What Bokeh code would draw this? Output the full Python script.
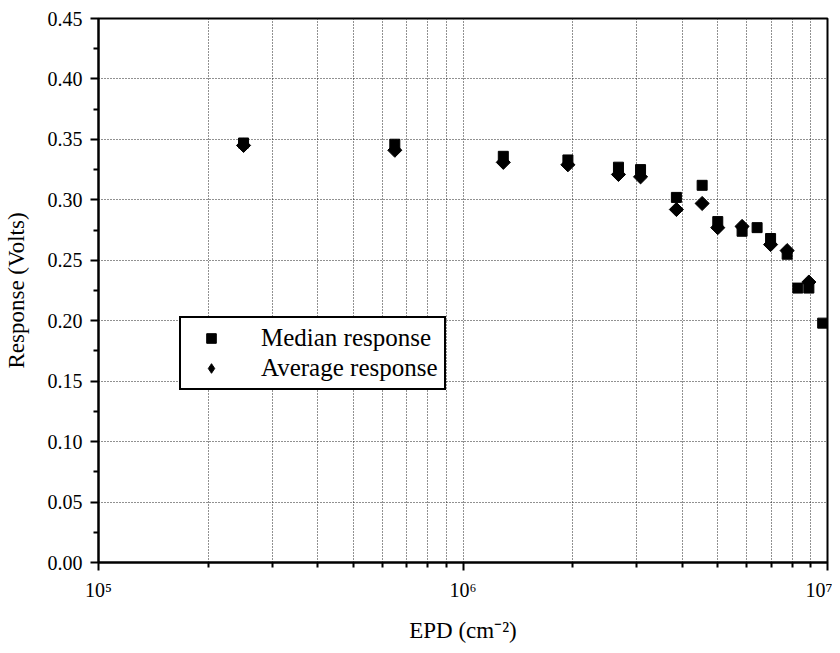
import math
from bokeh.plotting import figure
from bokeh.models import FixedTicker, Legend, LegendItem, NumeralTickFormatter
from bokeh.embed import file_html
from bokeh.resources import INLINE

# ---- data ----
median_x = [2.5e5, 6.5e5, 1.29e6, 1.94e6, 2.67e6, 3.07e6, 3.85e6, 4.53e6,
            5.0e6, 5.83e6, 6.41e6, 6.98e6, 7.75e6, 8.29e6, 8.89e6, 9.7e6]
median_y = [0.347, 0.346, 0.336, 0.333, 0.327, 0.325, 0.302, 0.312,
            0.282, 0.274, 0.277, 0.268, 0.255, 0.227, 0.227, 0.198]

average_x = [2.5e5, 6.5e5, 1.29e6, 1.94e6, 2.67e6, 3.07e6, 3.85e6, 4.53e6,
             5.0e6, 5.83e6, 6.98e6, 7.75e6, 8.89e6]
average_y = [0.345, 0.341, 0.331, 0.329, 0.321, 0.319, 0.292, 0.297,
             0.277, 0.278, 0.263, 0.258, 0.232]

x_major_ticks = [1e5, 1e6, 1e7]
x_minor_ticks = [2e5, 3e5, 4e5, 5e5, 6e5, 7e5, 8e5, 9e5,
                 2e6, 3e6, 4e6, 5e6, 6e6, 7e6, 8e6, 9e6]
x_tick_labels = {1e5: "10\u2075", 1e6: "10\u2076", 1e7: "10\u2077"}
y_major_ticks = [0.00, 0.05, 0.10, 0.15, 0.20, 0.25, 0.30, 0.35, 0.40, 0.45]
y_minor_ticks = [0.025, 0.075, 0.125, 0.175, 0.225, 0.275, 0.325, 0.375, 0.425]

FONT = "Liberation Serif"

p = figure(width=832, height=645, x_axis_type="log",
           x_range=(1e5, 1e7), y_range=(0, 0.45),
           output_backend="svg", toolbar_location=None,
           min_border_left=98, min_border_right=5,
           min_border_top=18, min_border_bottom=83,
           background_fill_color="white", border_fill_color="white")

p.outline_line_color = "black"
p.outline_line_width = 2

# axes
p.xaxis.ticker = FixedTicker(ticks=x_major_ticks, minor_ticks=x_minor_ticks)
p.xaxis.major_label_overrides = x_tick_labels
p.yaxis.ticker = FixedTicker(ticks=y_major_ticks, minor_ticks=y_minor_ticks)
p.yaxis.formatter = NumeralTickFormatter(format="0.00")

p.axis.axis_line_color = "black"
p.axis.axis_line_width = 2
p.axis.major_tick_line_color = "black"
p.axis.major_tick_line_width = 2
p.axis.minor_tick_line_color = "black"
p.axis.minor_tick_line_width = 2
p.axis.major_tick_in = 0
p.axis.major_tick_out = 8
p.axis.minor_tick_in = 0
p.axis.minor_tick_out = 5
p.axis.axis_label_text_font = FONT
p.axis.axis_label_text_font_size = "23px"
p.axis.axis_label_text_font_style = "normal"
p.axis.axis_label_text_color = "black"
p.axis.major_label_text_font = FONT
p.axis.major_label_text_font_size = "20px"
p.axis.major_label_text_font_style = "normal"
p.axis.major_label_text_color = "black"

p.xaxis.axis_label = "EPD (cm\u207b\u00b2)"
p.yaxis.axis_label = "Response (Volts)"
p.xaxis.major_label_standoff = 8
p.xaxis.axis_label_standoff = 14
p.yaxis.major_label_standoff = 8
p.yaxis.axis_label_standoff = 16

# grids
p.xgrid.ticker = FixedTicker(ticks=x_major_ticks, minor_ticks=x_minor_ticks)
p.xgrid.grid_line_color = "#222222"
p.xgrid.grid_line_dash = "1 2"
p.xgrid.grid_line_width = 1
p.xgrid.minor_grid_line_color = "#222222"
p.xgrid.minor_grid_line_dash = "1 2"
p.xgrid.minor_grid_line_width = 1
p.ygrid.ticker = FixedTicker(ticks=y_major_ticks)
p.ygrid.grid_line_color = "#222222"
p.ygrid.grid_line_dash = "1 2"
p.ygrid.grid_line_width = 1

# data
r_med = p.scatter(median_x, median_y, marker="square", size=10,
                  fill_color="black", line_color="black")
r_avg = p.scatter(average_x, average_y, marker="square", size=10,
                  angle=math.pi / 4,
                  fill_color="black", line_color="black")
# legend-only glyph for the diamond (legend swatches ignore angle)
r_avg_key = p.scatter([float("nan")], [float("nan")], marker="diamond", size=19,
                      fill_color="black", line_color="black")

legend = Legend(items=[LegendItem(label="Median response", renderers=[r_med]),
                       LegendItem(label="Average response", renderers=[r_avg_key])],
                location=(81, 172))
legend.label_text_font = FONT
legend.label_text_font_size = "25px"
legend.label_text_color = "black"
legend.border_line_color = "black"
legend.border_line_width = 2
legend.border_line_alpha = 1
legend.background_fill_color = "white"
legend.background_fill_alpha = 1
legend.padding = 6
legend.spacing = 2
legend.margin = 0
legend.glyph_width = 48
legend.glyph_height = 24
legend.label_height = 24
legend.label_standoff = 26
p.add_layout(legend, "center")

open("out.html", "w").write(file_html(p, INLINE))
